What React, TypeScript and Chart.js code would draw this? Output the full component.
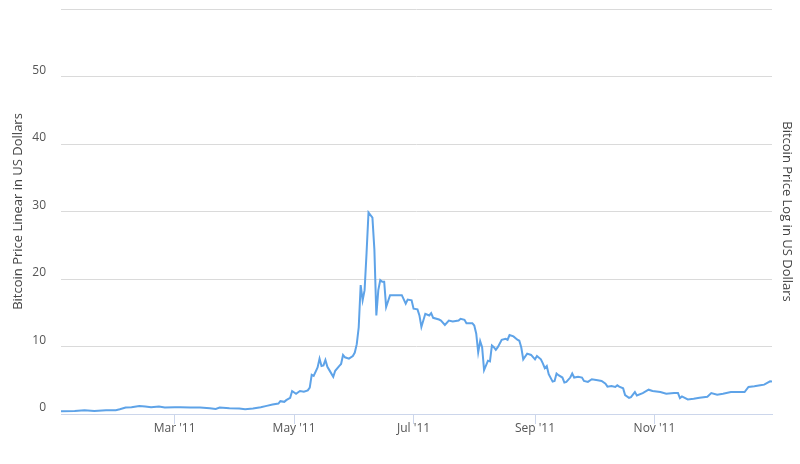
import { useEffect, useRef } from 'react';
import { Chart, registerables } from 'chart.js';

Chart.register(...registerables);

// Day of year 2011 (0 = Jan 1) for each sampled point
const days = [
  1, 8, 13, 18, 24, 29, 31, 34, 37, 41, 44, 47, 51, 54, 59, 62, 67, 72, 77, 80,
  82, 87, 92, 95, 99, 103, 106, 109, 112, 113, 115, 116, 118, 119, 121, 123, 125, 127, 128, 129,
  130, 132, 133, 134, 135, 136, 137, 138, 140, 141, 143, 144, 145, 146, 148, 150, 151, 152, 153, 154,
  155, 156, 157, 158, 160, 161, 162, 163, 164, 165, 166, 167, 169, 172, 175, 177, 178, 180, 181, 183,
  184, 185, 187, 189, 190, 191, 194, 195, 197, 199, 201, 204, 205, 207, 208, 211, 212, 213, 214, 215,
  216, 217, 219, 220, 221, 222, 223, 224, 226, 228, 229, 230, 232, 234, 235, 236, 237, 239, 241, 243,
  244, 246, 247, 248, 249, 250, 252, 253, 254, 255, 257, 258, 259, 261, 262, 263, 265, 267, 268, 270,
  272, 275, 277, 279, 280, 282, 284, 285, 286, 288, 289, 291, 292, 294, 295, 298, 301, 303, 307, 310,
  314, 316, 317, 318, 321, 324, 327, 331, 333, 336, 339, 343, 346, 350, 352, 355, 358, 360, 363, 364,
];

// Bitcoin price (USD)
const prices = [
  0.42, 0.46, 0.56, 0.46, 0.56, 0.56, 0.7, 0.95, 1.0, 1.2, 1.1, 1.0, 1.1, 0.95, 1.0, 1.0, 0.95, 0.98, 0.85, 0.75,
  0.95, 0.85, 0.8, 0.7, 0.8, 1.0, 1.2, 1.4, 1.55, 1.9, 1.8, 2.05, 2.4, 3.4, 3.0, 3.4, 3.3, 3.5, 3.9, 5.8,
  5.65, 6.9, 8.2, 7.1, 7.2, 8.0, 7.0, 6.5, 5.5, 6.4, 7.1, 7.4, 8.75, 8.4, 8.2, 8.6, 9.1, 10.35, 12.85, 19.1,
  16.85, 18.35, 23.85, 29.85, 29.1, 24.35, 14.6, 18.35, 19.85, 19.6, 19.6, 15.85, 17.6, 17.6, 17.6, 16.35, 16.95, 16.85, 15.6, 15.5,
  14.6, 12.9, 14.85, 14.6, 14.95, 14.25, 14.0, 13.85, 13.2, 13.85, 13.7, 13.85, 14.1, 13.95, 13.45, 13.45, 13.1, 11.9, 9.15, 10.8,
  9.9, 6.5, 7.9, 7.8, 10.15, 9.9, 9.5, 9.9, 11.0, 11.15, 11.0, 11.7, 11.5, 11.0, 10.85, 9.85, 8.1, 8.95, 8.75, 8.1,
  8.6, 8.1, 7.5, 6.8, 7.1, 5.9, 4.8, 4.9, 6.0, 5.75, 5.4, 4.65, 4.75, 5.4, 6.0, 5.4, 5.5, 5.4, 4.9, 4.75,
  5.15, 5.0, 4.9, 4.5, 4.05, 4.15, 4.0, 4.25, 4.05, 3.8, 2.8, 2.4, 2.5, 3.25, 2.75, 3.1, 3.6, 3.4, 3.25, 3.0,
  3.1, 3.1, 2.35, 2.6, 2.15, 2.25, 2.4, 2.55, 3.1, 2.85, 3.0, 3.25, 3.25, 3.25, 4.0, 4.1, 4.25, 4.35, 4.85, 4.8,
];

const xMinDay = 1;
const xMaxDay = 364;
const monthTickDays = [59, 120, 181, 243, 304];
const monthTickLabels = ["Mar '11", "May '11", "Jul '11", "Sep '11", "Nov '11"];
const yMax = 60;
const yStep = 10;

const leftTitle = 'Bitcoin Price Linear in US Dollars';
const rightTitle = 'Bitcoin Price Log in US Dollars';

export default function App() {
  const canvasRef = useRef<HTMLCanvasElement | null>(null);

  useEffect(() => {
    document.body.style.margin = '0';
    const canvas = canvasRef.current;
    if (!canvas) return;
    Chart.defaults.font.family = '"Open Sans", sans-serif';
    const points = days.map((d, i) => ({ x: d, y: prices[i] }));
    const chart = new Chart(canvas, {
      type: 'line',
      data: {
        datasets: [
          {
            data: points,
            borderColor: '#5ea3e8',
            borderWidth: 2,
            pointRadius: 0,
            tension: 0,
            fill: false,
            yAxisID: 'y',
          },
        ],
      },
      options: {
        animation: false,
        responsive: false,
        layout: { padding: { top: 9, left: 0, right: 0, bottom: 0 } },
        plugins: {
          legend: { display: false },
          tooltip: { enabled: false },
        },
        scales: {
          x: {
            type: 'linear',
            min: xMinDay,
            max: xMaxDay,
            afterBuildTicks: (scale: any) => {
              scale.ticks = monthTickDays.map((v) => ({ value: v }));
            },
            afterFit: (scale: any) => {
              scale.height = 50;
              scale.paddingLeft = 0;
              scale.paddingRight = 0;
            },
            ticks: {
              autoSkip: false,
              maxRotation: 0,
              padding: -3,
              color: '#555555',
              font: { size: 12 },
              callback: (v: any) => {
                const i = monthTickDays.indexOf(Number(v));
                return i >= 0 ? monthTickLabels[i] : '';
              },
            },
            grid: {
              drawOnChartArea: false,
              drawTicks: true,
              tickLength: 10,
              color: '#ccd6eb',
            },
            border: { display: true, color: '#ccd6eb', width: 1 },
          },
          y: {
            type: 'linear',
            position: 'left',
            min: 0,
            max: yMax,
            afterFit: (scale: any) => {
              scale.width = 61;
              scale.paddingTop = 0;
              scale.paddingBottom = 0;
            },
            ticks: {
              stepSize: yStep,
              padding: 15,
              labelOffset: -6,
              color: '#555555',
              font: { size: 12 },
              callback: (v: any) => (Number(v) === yMax ? '' : String(v)),
            },
            grid: { color: '#dadada', drawTicks: false, lineWidth: 1 },
            border: { display: false },
            title: {
              display: true,
              text: leftTitle,
              color: '#444444',
              font: { size: 13 },
              padding: 10,
            },
          },
          y1: {
            type: 'linear',
            position: 'right',
            afterFit: (scale: any) => {
              scale.width = 28;
              scale.paddingTop = 0;
              scale.paddingBottom = 0;
            },
            ticks: { display: false },
            grid: { display: false, drawTicks: false },
            border: { display: false },
            title: {
              display: true,
              text: rightTitle,
              color: '#444444',
              font: { size: 13 },
              padding: 5,
            },
          },
        },
      },
    });
    return () => chart.destroy();
  }, []);

  return (
    <div style={{ width: 800, height: 464 }}>
      <canvas ref={canvasRef} width={800} height={464} />
    </div>
  );
}
